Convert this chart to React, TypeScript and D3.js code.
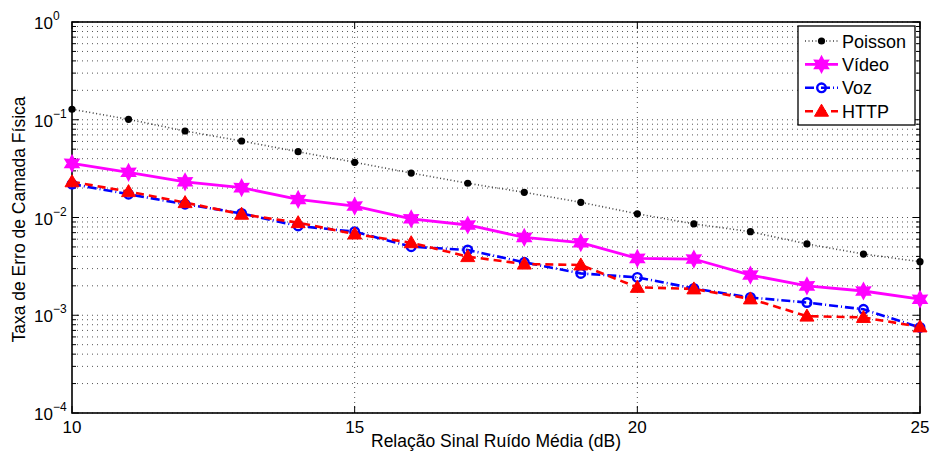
import React, { useEffect, useRef } from 'react';
import * as d3 from 'd3';

const snr = [10, 11, 12, 13, 14, 15, 16, 17, 18, 19, 20, 21, 22, 23, 24, 25];
const poisson = [0.128, 0.101, 0.0767, 0.0606, 0.0471, 0.0367, 0.0285, 0.0224, 0.0181, 0.0143, 0.0109, 0.0086, 0.00716, 0.00536, 0.00423, 0.00353];
const video = [0.0358, 0.029, 0.0232, 0.0202, 0.0153, 0.0131, 0.0097, 0.00838, 0.00626, 0.00552, 0.00382, 0.00376, 0.00258, 0.002, 0.00177, 0.00146];
const voz = [0.022, 0.0173, 0.0137, 0.011, 0.0082, 0.00716, 0.00503, 0.00465, 0.00348, 0.00268, 0.00244, 0.00188, 0.00152, 0.00135, 0.00115, 0.00075];
const http = [0.0232, 0.0184, 0.0142, 0.0108, 0.00885, 0.00678, 0.00552, 0.00398, 0.00334, 0.00327, 0.00193, 0.00186, 0.00147, 0.00098, 0.00095, 0.00076];
const xTicks = [10, 15, 20, 25];
const yExponents = [0, -1, -2, -3, -4];
const seriesNames = ['Poisson', 'Vídeo', 'Voz', 'HTTP'];

const font = 'Liberation Sans, Arial, sans-serif';

// six pointed star like matlab's hexagram
const hexagram = (r: number) => {
  const pts: string[] = [];
  for (let i = 0; i < 12; i++) {
    const a = (Math.PI / 6) * i - Math.PI / 2;
    const rr = i % 2 === 0 ? r : r * 0.55;
    pts.push(`${(Math.cos(a) * rr).toFixed(2)},${(Math.sin(a) * rr).toFixed(2)}`);
  }
  return 'M' + pts.join('L') + 'Z';
};

const App = () => {
  const ref = useRef<SVGSVGElement>(null);

  useEffect(() => {
    const svg = d3.select(ref.current);
    svg.selectAll('*').remove();

    const margin = { top: 22, right: 12, bottom: 44, left: 72 };
    const W = 932, H = 457;

    const x = d3.scaleLinear().domain([10, 25]).range([margin.left, W - margin.right]);
    const y = d3.scaleLog().domain([1e-4, 1]).range([H - margin.bottom, margin.top]);

    const g = svg.append('g');

    // grid
    const minor: number[] = [];
    for (let k = -4; k < 0; k++) for (let m = 1; m < 10; m++) minor.push(m * Math.pow(10, k));
    minor.push(1);
    g.selectAll('.ygrid').data(minor).enter().append('line')
      .attr('x1', x(10)).attr('x2', x(25))
      .attr('y1', d => y(d)).attr('y2', d => y(d))
      .attr('stroke', '#555').attr('stroke-width', 1)
      .attr('stroke-dasharray', '1,4');
    g.selectAll('.xgrid').data(xTicks.slice(1, -1)).enter().append('line')
      .attr('x1', d => x(d)).attr('x2', d => x(d))
      .attr('y1', y(1)).attr('y2', y(1e-4))
      .attr('stroke', '#555').attr('stroke-width', 1)
      .attr('stroke-dasharray', '1,4');

    // ticks
    const ticks = g.append('g').attr('stroke', '#000').attr('stroke-width', 1);
    minor.forEach(v => {
      const major = Math.abs(Math.log10(v) - Math.round(Math.log10(v))) < 1e-9;
      const len = major ? 7 : 4;
      ticks.append('line').attr('x1', x(10)).attr('x2', x(10) + len).attr('y1', y(v)).attr('y2', y(v));
      ticks.append('line').attr('x1', x(25)).attr('x2', x(25) - len).attr('y1', y(v)).attr('y2', y(v));
    });
    xTicks.forEach(v => {
      ticks.append('line').attr('x1', x(v)).attr('x2', x(v)).attr('y1', y(1e-4)).attr('y2', y(1e-4) - 7);
      ticks.append('line').attr('x1', x(v)).attr('x2', x(v)).attr('y1', y(1)).attr('y2', y(1) + 7);
    });

    // box
    g.append('rect')
      .attr('x', x(10)).attr('y', y(1))
      .attr('width', x(25) - x(10)).attr('height', y(1e-4) - y(1))
      .attr('fill', 'none').attr('stroke', '#000').attr('stroke-width', 1.6);

    // tick labels
    xTicks.forEach(v => {
      g.append('text').attr('x', x(v)).attr('y', y(1e-4) + 20)
        .attr('text-anchor', 'middle').attr('font-family', font).attr('font-size', 17)
        .text(v);
    });
    yExponents.forEach(e => {
      const t = g.append('text').attr('x', 34).attr('y', y(Math.pow(10, e)) + 7)
        .attr('font-family', font).attr('font-size', 17);
      t.append('tspan').text('10');
      t.append('tspan').attr('dy', -9).attr('font-size', 12).text(e === 0 ? '0' : `\u2212${-e}`);
    });

    // axis titles
    g.append('text').attr('x', (x(10) + x(25)) / 2).attr('y', 447)
      .attr('text-anchor', 'middle').attr('font-family', font).attr('font-size', 17.5)
      .text('Relação Sinal Ruído Média (dB)');
    g.append('text').attr('transform', `translate(25, ${(y(1) + y(1e-4)) / 2 + 2}) rotate(-90)`)
      .attr('text-anchor', 'middle').attr('font-family', font).attr('font-size', 17.5)
      .text('Taxa de Erro de Camada Física');

    const line = d3.line<number>().x((d, i) => x(snr[i])).y(d => y(d));

    const styles = [
      { data: poisson, color: '#000', width: 1.6, dash: '1,2.5', op: 0.75 },
      { data: video, color: '#ff00ff', width: 2.8, dash: null, op: 1 },
      { data: voz, color: '#0000ff', width: 2.6, dash: '9,3,1,3', op: 1 },
      { data: http, color: '#ff0000', width: 2.6, dash: '8,5', op: 1 },
    ];

    const plot = g.append('g');
    styles.forEach(s => {
      plot.append('path').datum(s.data).attr('d', line)
        .attr('fill', 'none').attr('stroke', s.color).attr('stroke-width', s.width)
        .attr('stroke-opacity', s.op)
        .attr('stroke-dasharray', s.dash);
    });

    const drawMarker = (sel: any, idx: number, cx: number, cy: number) => {
      if (idx === 0) {
        sel.append('circle').attr('cx', cx).attr('cy', cy).attr('r', 3.6).attr('fill', '#000');
      } else if (idx === 1) {
        sel.append('path').attr('d', hexagram(8)).attr('transform', `translate(${cx},${cy})`)
          .attr('fill', '#ff00ff').attr('stroke', '#ff00ff').attr('stroke-width', 1.5);
      } else if (idx === 2) {
        sel.append('circle').attr('cx', cx).attr('cy', cy).attr('r', 4.3)
          .attr('fill', 'none').attr('stroke', '#0000ff').attr('stroke-width', 2.4);
      } else {
        sel.append('path').attr('d', 'M0,-7L7,5L-7,5Z').attr('transform', `translate(${cx},${cy})`)
          .attr('fill', '#ff0000').attr('stroke', '#ff0000').attr('stroke-width', 1);
      }
    };

    styles.forEach((s, idx) => {
      s.data.forEach((v, i) => drawMarker(plot, idx, x(snr[i]), y(v)));
    });

    // legend
    const lg = g.append('g');
    lg.append('rect').attr('x', 798).attr('y', 26).attr('width', 117).attr('height', 99)
      .attr('fill', '#fff').attr('stroke', '#000').attr('stroke-width', 1.3);
    seriesNames.forEach((name, i) => {
      const ly = 41 + i * 23.4;
      const s = styles[i];
      lg.append('line').attr('x1', 805).attr('x2', 838).attr('y1', ly).attr('y2', ly)
        .attr('stroke', s.color).attr('stroke-width', s.width).attr('stroke-opacity', s.op)
        .attr('stroke-dasharray', s.dash);
      drawMarker(lg, i, 821.5, ly);
      lg.append('text').attr('x', 842).attr('y', ly + 6.5)
        .attr('font-family', font).attr('font-size', 18).text(name);
    });
  }, []);

  return (
    <svg ref={ref} width={932} height={457}
      style={{ position: 'absolute', left: 0, top: 0, background: '#fff' }} />
  );
};

export default App;
